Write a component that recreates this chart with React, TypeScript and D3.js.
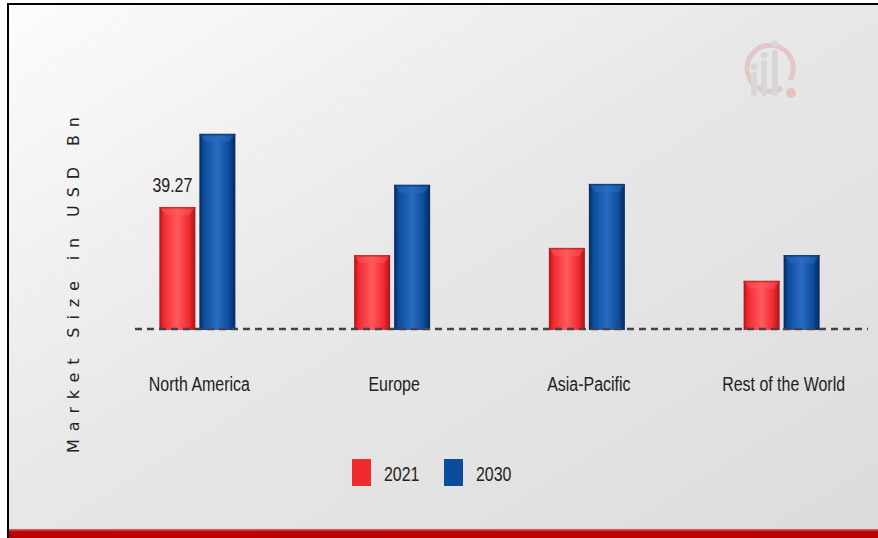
import React from "react";
import * as d3 from "d3";

const categories = ["North America", "Europe", "Asia-Pacific", "Rest of the World"];
const seriesNames = ["2021", "2030"];
const values2021 = [39.27, 23.8, 26.1, 15.5];
const values2030 = [62.8, 46.4, 46.7, 23.8];
const dataLabels = ["39.27", "", "", ""];
const yTitle = "Market Size in USD Bn";

const W = 878;
const H = 538;
const colors: Record<string, string> = { "2021": "#f02a2f", "2030": "#0b4c9c" };
const darks: Record<string, string> = { "2021": "#a8161a", "2030": "#06295a" };
const lights: Record<string, string> = { "2021": "#ff5a5e", "2030": "#2a6cc0" };

const SX = 0.76;
function NarrowText(props: { x: number; y: number; anchor?: string; size?: number; children: React.ReactNode }) {
  const { x, y, anchor = "start", size = 21, children } = props;
  return (
    <g transform={`translate(${x},${y}) scale(${SX},1)`}>
      <text x={0} y={0} textAnchor={anchor as any} fontFamily="'Liberation Sans', Arial, sans-serif" fontSize={size} fill="#222">
        {children}
      </text>
    </g>
  );
}

export default function App() {
  const baseline = 329;
  const x = d3.scaleBand<string>().domain(categories).range([100, 879]);
  const inner = d3.scaleBand<string>().domain(seriesNames).range([-38, 38]).paddingInner(0.1);
  const y = d3.scaleLinear().domain([0, 70]).range([baseline, baseline - 217.5]);
  const series: Record<string, number[]> = { "2021": values2021, "2030": values2030 };

  return (
    <svg width={W} height={H} style={{ position: "absolute", left: 0, top: 0 }}>
      <defs>
        <linearGradient id="bg" x1="0" y1="0" x2="1" y2="1">
          <stop offset="0%" stopColor="#fcfcfc" />
          <stop offset="45%" stopColor="#e8e8e8" />
          <stop offset="100%" stopColor="#dcdcdc" />
        </linearGradient>
        {seriesNames.map((s) => (
          <linearGradient key={s} id={"g" + s} x1="0" y1="0" x2="1" y2="0">
            <stop offset="0%" stopColor={darks[s]} />
            <stop offset="12%" stopColor={colors[s]} />
            <stop offset="50%" stopColor={lights[s]} stopOpacity={1} />
            <stop offset="82%" stopColor={colors[s]} />
            <stop offset="100%" stopColor={darks[s]} />
          </linearGradient>
        ))}
        <linearGradient id="redbar" x1="0" y1="0" x2="0" y2="1">
          <stop offset="0%" stopColor="#e07070" />
          <stop offset="30%" stopColor="#c00000" />
          <stop offset="100%" stopColor="#b80000" />
        </linearGradient>
      </defs>
      <rect x={0} y={0} width={W} height={H} fill="#ffffff" />
      <rect x={8} y={4} width={W - 8} height={H - 4} fill="url(#bg)" />
      <line x1={7} y1={4} x2={W} y2={4} stroke="#000" strokeWidth={2} />
      <line x1={8} y1={3} x2={8} y2={H} stroke="#000" strokeWidth={2} />
      <rect x={9} y={529} width={W - 9} height={9} fill="url(#redbar)" />

      {/* watermark logo */}
      <g opacity={0.5}>
        <path d="M 790 80 A 23 23 0 1 0 782 88" fill="none" stroke="#e2a8a8" strokeWidth={5} />
        <circle cx={791} cy={93} r={5} fill="#e2a0a0" />
        <circle cx={754} cy={67} r={3.5} fill="#c8c8c8" />
        <circle cx={764} cy={55} r={3.5} fill="#c8c8c8" />
        <circle cx={775} cy={44} r={3.5} fill="#c8c8c8" />
        <rect x={751} y={72} width={6} height={24} rx={3} fill="#c8c8c8" />
        <rect x={761} y={60} width={6} height={36} rx={3} fill="#c8c8c8" />
        <rect x={772} y={50} width={6} height={46} rx={3} fill="#c8c8c8" />
      </g>

      {/* bars */}
      {categories.map((c, i) => {
        const cx = (x(c) as number) + x.bandwidth() / 2;
        return (
          <g key={c}>
            {seriesNames.map((s) => {
              const v = series[s][i];
              const bx = cx + (inner(s) as number);
              const bw = inner.bandwidth();
              const top = y(v);
              const h = baseline + 1 - top;
              return (
                <g key={s}>
                  <rect x={bx} y={top} width={bw} height={h} fill={`url(#g${s})`} />
                  <polygon
                    points={`${bx},${top} ${bx + bw},${top} ${bx + bw - 6},${top + 8} ${bx + 6},${top + 8}`}
                    fill={lights[s]}
                    opacity={0.5}
                  />
                  <rect x={bx} y={top} width={bw} height={1.5} fill={darks[s]} opacity={0.6} />
                </g>
              );
            })}
            {dataLabels[i] && (
              <NarrowText
                x={cx + (inner("2021") as number) + inner.bandwidth() / 2 - 5}
                y={y(values2021[i]) - 15}
                anchor="middle"
              >
                {dataLabels[i]}
              </NarrowText>
            )}
            <NarrowText x={cx + 2} y={391} anchor="middle">
              {c}
            </NarrowText>
          </g>
        );
      })}

      <line x1={135} y1={baseline} x2={868} y2={baseline} stroke="#444" strokeWidth={2.5} strokeDasharray="7,5" />

      <text
        transform={`translate(79,${285}) rotate(-90)`}
        textAnchor="middle"
        fontFamily="'DejaVu Sans', sans-serif"
        fontSize={16}
        fill="#222"
        textLength={336}
        lengthAdjust="spacing"
      >
        {yTitle}
      </text>

      {/* legend */}
      {seriesNames.map((s, i) => {
        const lx = 352 + i * 92;
        return (
          <g key={s}>
            <rect x={lx} y={459} width={19} height={27} fill={colors[s]} />
            <NarrowText x={lx + 32} y={481}>
              {s}
            </NarrowText>
          </g>
        );
      })}
    </svg>
  );
}
